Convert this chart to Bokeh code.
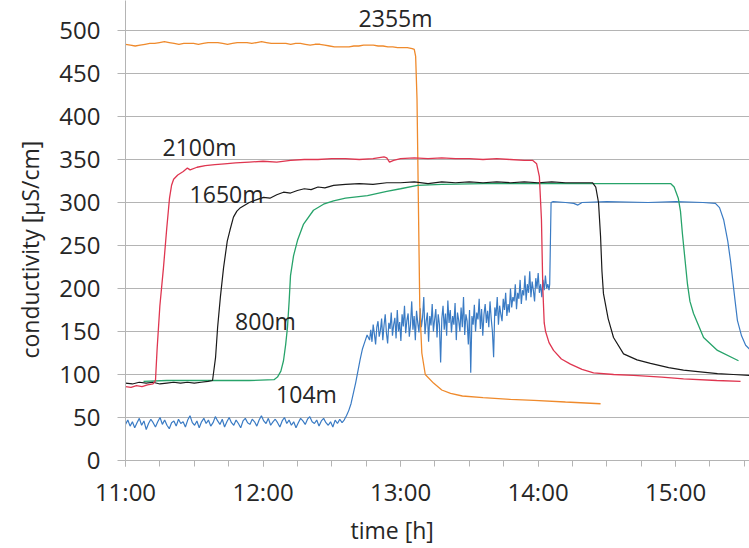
import numpy as np
from bokeh.plotting import figure
from bokeh.models import FixedTicker, Range1d, Label, Title
from bokeh.embed import file_html
from bokeh.resources import INLINE

# ---- data (hours, conductivity µS/cm) ----
hour_ticks = [11, 12, 13, 14, 15]
hour_labels = ["11:00", "12:00", "13:00", "14:00", "15:00"]
y_ticks = [0, 50, 100, 150, 200, 250, 300, 350, 400, 450, 500]

# 104 m (blue)
blue_low = [42,47,40,45,38,44,49,41,46,36,
            43,48,44,39,45,50,42,47,41,37,
            44,46,40,48,43,45,39,47,52,44,
            41,46,38,45,49,43,47,40,44,51,
            46,42,48,39,45,50,44,41,47,43,
            38,46,49,44,42,48,45,40,47,52,
            46,43,49,41,45,48,44,39,46,50,
            43,47,41,45,38,44,49,46,42,48,
            51,45,43,47,40,46,49,44,41,45,
            39,47,43,48,44]
blue_rise = [47, 52, 58, 66, 78, 90, 104, 118, 130, 138, 146]
blue_mid = [140,152,138,158,147,135,155,162,144,151,
            165,140,157,170,148,136,160,153,172,145,
            158,166,142,175,150,161,139,170,156,180,
            148,163,171,144,158,185,152,168,140,174,
            160,149,177,155,166,190,147,162,172,138,
            168,157,182,150,164,176,143,170,158,114,
            165,180,152,171,145,186,160,175,149,168,
            158,183,140,172,163,150,178,155,190,146,
            170,162,135,175,102,168,158,181,150,172,
            164,188,153,176,145,170,182,160,174,155,
            185,165,150,120,178,168,190,158,180,170,
            162,188,175,195,168,182,172,200,178,190,
            185,205,176,195,188,210,182,198,192,215,
            186,205,195,220,190,208,198,185,212,200,
            218,195,205,190,210,198,215,200,205,198]
blue_end_t = [14.085, 14.095, 14.11, 14.2, 14.26, 14.29, 14.32, 14.5, 14.8, 15.0, 15.2,
              15.29, 15.32, 15.35, 15.38, 15.40, 15.43, 15.45, 15.48, 15.51, 15.56]
blue_end_v = [205, 300, 301, 300, 299, 297, 300, 301, 300, 301, 300,
              299, 294, 280, 255, 232, 190, 163, 145, 134, 126]

# 2355 m (orange)
orange_flat = [484,483,482,483,484,485,485,486,487,486,
               485,484,485,485,485,484,485,486,486,486,
               485,484,485,486,486,486,485,486,487,486,
               485,485,485,485,484,485,485,484,483,484,
               484,483,482,481,481,481,481,482,482,483,
               483,483,482,482,481,481,480,480,480,479]
orange_drop_t = [13.10, 13.11, 13.12, 13.13, 13.14, 13.155, 13.18, 13.24, 13.30, 13.364,
                 13.45, 13.60, 13.80, 13.97, 14.20, 14.455]
orange_drop_v = [478, 470, 420, 300, 180, 125, 100, 90, 82, 78,
                 75, 73, 71, 70, 68, 66]

# 2100 m (red)
red_t = [11.00, 11.04, 11.08, 11.12, 11.16, 11.20, 11.218, 11.23, 11.25, 11.276,
         11.30, 11.32, 11.335, 11.35, 11.38, 11.42, 11.45, 11.47, 11.52, 11.58,
         11.65, 11.72, 11.8, 11.9, 12.0, 12.1, 12.2, 12.3, 12.4, 12.5,
         12.6, 12.7, 12.8, 12.88, 12.9, 12.92, 12.95, 13.0, 13.1, 13.2,
         13.3, 13.4, 13.5, 13.6, 13.7, 13.8, 13.9, 13.96, 13.99, 14.01,
         14.025, 14.035, 14.045, 14.055, 14.08, 14.113, 14.17, 14.236, 14.32, 14.404,
         14.55, 14.695, 14.9, 15.058, 15.3, 15.473]
red_v = [86, 85, 87, 86, 88, 89, 93, 130, 180, 224,
         270, 305, 320, 327, 332, 336, 340, 338, 341, 343,
         344, 345, 346, 347, 348, 347, 349, 350, 350, 351,
         351, 350, 351, 353, 352, 347, 349, 351, 352, 351,
         352, 351, 351, 350, 351, 350, 349, 349, 345, 330,
         280, 200, 160, 150, 137, 128, 118, 112, 106, 102,
         100, 99, 97, 95, 93, 92]

# 1650 m (black)
black_t = [11.00, 11.05, 11.1, 11.15, 11.2, 11.25, 11.3, 11.35, 11.4, 11.45,
           11.5, 11.55, 11.6, 11.633, 11.655, 11.67, 11.69, 11.713, 11.74, 11.76,
           11.785, 11.81, 11.836, 11.9, 11.95, 12.004, 12.05, 12.1, 12.149, 12.2,
           12.25, 12.3, 12.35, 12.4, 12.45, 12.513, 12.6, 12.7, 12.8, 12.9,
           13.0, 13.1, 13.2, 13.3, 13.4, 13.5, 13.6, 13.7, 13.8, 13.9,
           14.0, 14.1, 14.2, 14.3, 14.396, 14.42, 14.44, 14.455, 14.465, 14.476,
           14.51, 14.549, 14.622, 14.72, 14.818, 14.95, 15.058, 15.18, 15.305, 15.42,
           15.54]
black_v = [90, 89, 91, 90, 91, 89, 90, 91, 90, 91,
           90, 91, 92, 93, 120, 155, 190, 224, 255, 268,
           283, 290, 294, 300, 303, 306, 305, 309, 312, 311,
           314, 316, 315, 318, 317, 320, 321, 322, 321, 323,
           323, 324, 322, 324, 323, 324, 323, 324, 323, 324,
           323, 324, 323, 323, 323, 318, 300, 260, 220, 194,
           165, 143, 124, 117, 113, 108, 105, 103, 101, 100,
           99]

# 800 m (green)
green_t = [11.131, 11.3, 11.5, 11.7, 11.9, 12.08, 12.105, 12.13, 12.149, 12.165,
           12.178, 12.19, 12.2, 12.222, 12.251, 12.295, 12.367, 12.44, 12.513, 12.6,
           12.76, 12.9, 13.0, 13.124, 13.3, 13.604, 14.0, 14.5, 14.964, 14.99,
           15.02, 15.036, 15.05, 15.07, 15.087, 15.105, 15.131, 15.204, 15.305, 15.458]
green_v = [92, 93, 93, 93, 93, 94, 97, 104, 116, 135,
           155, 185, 215, 238, 256, 275, 291, 298, 302, 305,
           308, 313, 316, 320, 321, 322, 322, 322, 322, 318,
           305, 290, 264, 232, 205, 185, 171, 143, 128, 116]

labels = ["2355m", "2100m", "1650m", "800m", "104m"]
label_t = [12.964, 11.538, 11.735, 12.018, 12.316]
label_v = [514, 364, 310, 162, 77]

x_title = "time [h]"
y_title = "conductivity [µS/cm]"

# ---- assemble blue / orange time series ----
blue_t = list(np.linspace(11.0, 12.575, len(blue_low))) \
    + list(np.linspace(12.59, 12.757, len(blue_rise))) \
    + list(np.linspace(12.775, 14.08, len(blue_mid))) + blue_end_t
blue_v = blue_low + blue_rise + blue_mid + blue_end_v
orange_t = list(np.linspace(11.0, 13.085, len(orange_flat))) + orange_drop_t
orange_v = orange_flat + orange_drop_v

FONT = "Open Sans"
TXT = "#262626"
GRID = "#b4b4b4"

p = figure(width=749, height=548, output_backend="svg", toolbar_location=None,
           x_range=Range1d(11.0, 15.538), y_range=Range1d(0, 534.9),
           min_border_left=125, min_border_right=0, min_border_top=0, min_border_bottom=88)
p.outline_line_color = None
p.background_fill_color = "white"

p.line(blue_t, blue_v, line_color="#3a7bc4", line_width=1.2)
p.line(orange_t, orange_v, line_color="#ef8a2c", line_width=1.3)
p.line(green_t, green_v, line_color="#27a36a", line_width=1.3)
p.line(black_t, black_v, line_color="#1a1a1a", line_width=1.2)
p.line(red_t, red_v, line_color="#df3650", line_width=1.3)

for txt, tx, ty in zip(labels, label_t, label_v):
    p.add_layout(Label(x=tx, y=ty, text=txt, text_align="center", text_baseline="middle",
                       text_font=FONT, text_font_size="23px", text_color=TXT))

# axes
xa = p.xaxis[0]
xa.ticker = FixedTicker(ticks=hour_ticks,
                        minor_ticks=[11 + i * 0.25 for i in range(19)])
xa.major_label_overrides = {t: l for t, l in zip(hour_ticks, hour_labels)}
xa.axis_line_color = GRID
xa.major_tick_line_color = GRID
xa.minor_tick_line_color = GRID
xa.major_tick_in = 0
xa.major_tick_out = 6
xa.minor_tick_in = 0
xa.minor_tick_out = 6
xa.major_label_text_font = FONT
xa.major_label_text_font_size = "24px"
xa.major_label_text_color = TXT
xa.major_label_standoff = 8

ya = p.yaxis[0]
ya.ticker = FixedTicker(ticks=y_ticks, minor_ticks=[])
ya.axis_line_color = GRID
ya.major_tick_line_color = GRID
ya.major_tick_in = 0
ya.major_tick_out = 8
ya.minor_tick_line_color = None
ya.major_label_text_font = FONT
ya.major_label_text_font_size = "24px"
ya.major_label_text_color = TXT
ya.major_label_standoff = 17

# axis titles as side titles (the original is cropped on the right, so the
# titles are not centred on the visible frame)
p.add_layout(Title(text=x_title, align="left", offset=225, standoff=2,
                   text_font=FONT, text_font_size="23px", text_font_style="normal",
                   text_color=TXT), "below")
p.add_layout(Title(text=y_title, align="left", offset=102, standoff=22,
                   text_font=FONT, text_font_size="23px", text_font_style="normal",
                   text_color=TXT), "left")

p.xgrid.grid_line_color = None
p.ygrid.ticker = FixedTicker(ticks=y_ticks)
p.ygrid.grid_line_color = GRID
p.ygrid.grid_line_width = 1

open("out.html", "w").write(file_html(p, INLINE))
